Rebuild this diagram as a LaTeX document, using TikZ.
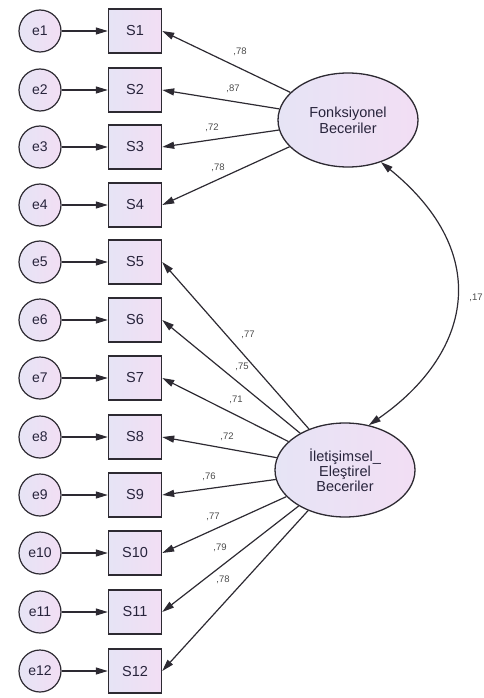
\documentclass[tikz,border=0pt]{standalone}
\usepackage{fontspec}
\setmainfont{Liberation Sans}
\usetikzlibrary{arrows.meta,shapes.geometric}
\definecolor{edge}{RGB}{45,42,50}
\definecolor{txt}{RGB}{40,36,60}
\definecolor{fillA}{RGB}{230,228,245}
\definecolor{fillB}{RGB}{242,222,244}
\definecolor{lbl}{RGB}{75,75,75}
\tikzset{
  errc/.style={circle,draw=edge,line width=1.2pt,minimum size=42pt,inner sep=0pt,
    left color=fillA,right color=fillB,text=txt,font=\fontsize{14}{15}\selectfont},
  obsbox/.style={rectangle,draw=edge,line width=1.4pt,minimum width=53pt,minimum height=44pt,inner sep=0pt,
    left color=fillA,right color=fillB,text=txt,font=\fontsize{14.5}{15}\selectfont},
  latent/.style={ellipse,draw=edge,line width=1.3pt,minimum width=140pt,minimum height=94pt,inner sep=0pt,
    left color=fillA,right color=fillB,text=txt,align=center,font=\fontsize{14.5}{16}\selectfont},
  arr/.style={draw=edge,line width=1.2pt,-{Triangle[length=12pt,width=7pt]}},
  coef/.style={text=lbl,font=\fontsize{9.5}{10}\selectfont,inner sep=0pt}
}
\begin{document}
\begin{tikzpicture}[x=1pt,y=-1pt]
\useasboundingbox (0,0) rectangle (483,698);
\foreach \i/\y in {1/31,2/90,3/147,4/205,5/262,6/320,7/378,8/437,9/495,10/553,11/612,12/671}{
  \node[errc] (e\i) at (40,\y) {e\i};
  \node[obsbox] (S\i) at (135,\y) {S\i};
  \draw[arr] (e\i) -- (S\i);
}
\node[latent] (F) at (348,120) {Fonksiyonel\\Beceriler};
\node[latent] (I) at (345,470) {İletişimsel\_\\[-1pt]Eleştirel\\[-1pt]Beceriler};
\foreach \i in {1,2,3,4}{ \draw[arr] (F) -- (S\i.east); }
\foreach \i in {5,6,7,8,9,10,11,12}{ \draw[arr] (I) -- (S\i.east); }
\coordinate (fa) at (F.-52);
\coordinate (ia) at (I.62);
\draw[draw=edge,line width=1.2pt,{Triangle[length=12pt,width=7pt]}-{Triangle[length=12pt,width=7pt]}]
  (fa) .. controls (495,255) and (470,355) .. (ia);
\node[coef] at (240,52) {,78};
\node[coef] at (233,89) {,87};
\node[coef] at (212,128) {,72};
\node[coef] at (218,168) {,78};
\node[coef] at (248,335) {,77};
\node[coef] at (242,367) {,75};
\node[coef] at (236,400) {,71};
\node[coef] at (227,437) {,72};
\node[coef] at (209,477) {,76};
\node[coef] at (213,517) {,77};
\node[coef] at (220,548) {,79};
\node[coef] at (223,580) {,78};
\node[coef] at (476,298) {,17};
\end{tikzpicture}
\end{document}
